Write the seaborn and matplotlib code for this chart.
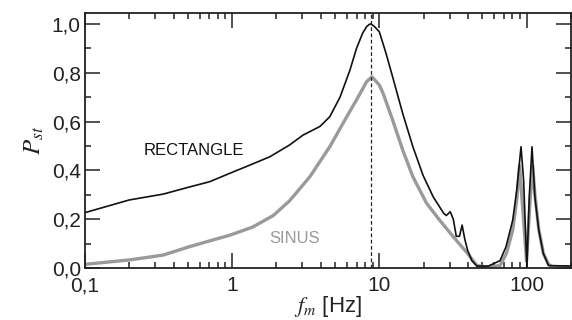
import matplotlib
matplotlib.use("Agg")
import matplotlib.pyplot as plt
import matplotlib.ticker as mticker
import pandas as pd
import seaborn as sns

# RECTANGLE modulation (black curve)
rect_freq = [0.1, 0.2, 0.34, 0.49, 0.705, 0.97, 1.32, 1.8, 2.45, 3.03, 3.94, 4.6,
             5.4, 6.3, 6.99, 7.7, 8.2, 8.6, 8.8, 9.3, 10.0, 11.1, 12.3, 14.4, 16.9,
             19.8, 23.2, 27.3, 28.5, 30.3, 31.8, 33.3, 35.0, 36.5, 38.0, 39.7, 42.5,
             46.0, 55.0, 66.0, 72.5, 80.6, 85.8, 91.7, 95.5, 100.5, 104.3, 108.9, 114.0,
             121.0, 130.0, 141.0, 200.0]
rect_pst = [0.227, 0.279, 0.303, 0.329, 0.354, 0.389, 0.422, 0.456, 0.504, 0.545, 0.58,
            0.62, 0.70, 0.81, 0.90, 0.963, 0.99, 1.0, 1.0, 0.989, 0.968, 0.88,
            0.784, 0.634, 0.497, 0.38, 0.292, 0.225, 0.215, 0.231, 0.2, 0.13, 0.13, 0.176,
            0.12, 0.074, 0.03, 0.008, 0.008, 0.03, 0.087, 0.197, 0.32, 0.497, 0.36, 0.0,
            0.29, 0.497, 0.29, 0.156, 0.06, 0.01, 0.008]

# SINUS modulation (grey curve)
sin_freq = [0.1, 0.2, 0.34, 0.51, 0.74, 0.97, 1.38, 1.9, 2.45, 3.37, 4.6, 6.0, 6.99, 8.2,
            8.9, 10.0, 10.6, 12.3, 14.4, 16.9, 20.9, 25.6, 31.8, 39.7, 46.0, 53.5, 66.0,
            73.0, 80.6, 85.8, 89.6, 94.0, 100.0, 105.0, 110.0, 114.0, 121.0, 130.0,
            141.0, 150.0, 200.0]
sin_pst = [0.015, 0.033, 0.053, 0.087, 0.115, 0.135, 0.168, 0.215, 0.275, 0.374, 0.497,
           0.62, 0.689, 0.764, 0.784, 0.75, 0.716, 0.607, 0.484, 0.374, 0.266, 0.197,
           0.128, 0.06, 0.01, 0.003, 0.01, 0.06, 0.156, 0.28, 0.42, 0.25, 0.03, 0.25,
           0.42, 0.3, 0.16, 0.06, 0.015, 0.005, 0.005]

x_ticks = [0.1, 1, 10, 100]
x_labels = ["0,1", "1", "10", "100"]
y_ticks = [0.0, 0.2, 0.4, 0.6, 0.8, 1.0]
y_labels = ["0,0", "0,2", "0,4", "0,6", "0,8", "1,0"]
f_flicker = 8.8

sns.set_style("ticks")
plt.rcParams["font.family"] = ["Liberation Sans", "DejaVu Sans"]
plt.rcParams["mathtext.fontset"] = "stix"

rect_df = pd.DataFrame({"f": rect_freq, "pst": rect_pst})
sin_df = pd.DataFrame({"f": sin_freq, "pst": sin_pst})

fig = plt.figure(figsize=(5.72, 3.2), dpi=100)
ax = fig.add_axes([0.1486, 0.1625, 0.8494, 0.7965])

sns.lineplot(data=sin_df, x="f", y="pst", ax=ax, color="#9a9a9a", lw=2.4,
             sort=False, estimator=None, solid_joinstyle="round")
sns.lineplot(data=rect_df, x="f", y="pst", ax=ax, color="#111111", lw=1.2,
             sort=False, estimator=None, solid_joinstyle="round")
ax.axvline(f_flicker, color="#222222", lw=0.9, ls=(0, (3, 2)))

ax.set_xscale("log")
ax.set_xlim(0.1, 200)
ax.set_ylim(0, 1.045)

ax.set_xticks(x_ticks)
ax.set_xticklabels(x_labels)
ax.xaxis.set_minor_locator(mticker.LogLocator(base=10, subs=range(2, 10), numticks=20))
ax.xaxis.set_minor_formatter(mticker.NullFormatter())
ax.set_yticks(y_ticks)
ax.set_yticklabels(y_labels)
ax.yaxis.set_minor_locator(mticker.MultipleLocator(0.1))

ax.tick_params(which="both", direction="in", top=True, right=True, width=1.1,
               labelsize=15, colors="#222222")
ax.tick_params(which="major", length=11)
ax.tick_params(axis="x", which="major", pad=6)
ax.tick_params(axis="y", which="major", pad=3)
ax.tick_params(which="minor", length=4.5)
for sp in ax.spines.values():
    sp.set_linewidth(1.3)
    sp.set_color("#222222")

ax.set_xlabel(r"$f_m$ [Hz]", fontsize=16, labelpad=-1, color="#222222")
ax.set_ylabel(r"$P_{st}$", fontsize=18, labelpad=4, color="#222222")

ax.text(0.55, 0.48, "RECTANGLE", fontsize=12, color="#111111", ha="center", va="center")
ax.text(2.65, 0.12, "SINUS", fontsize=12, color="#9a9a9a", ha="center", va="center")

fig.savefig("out.png", dpi=100)
